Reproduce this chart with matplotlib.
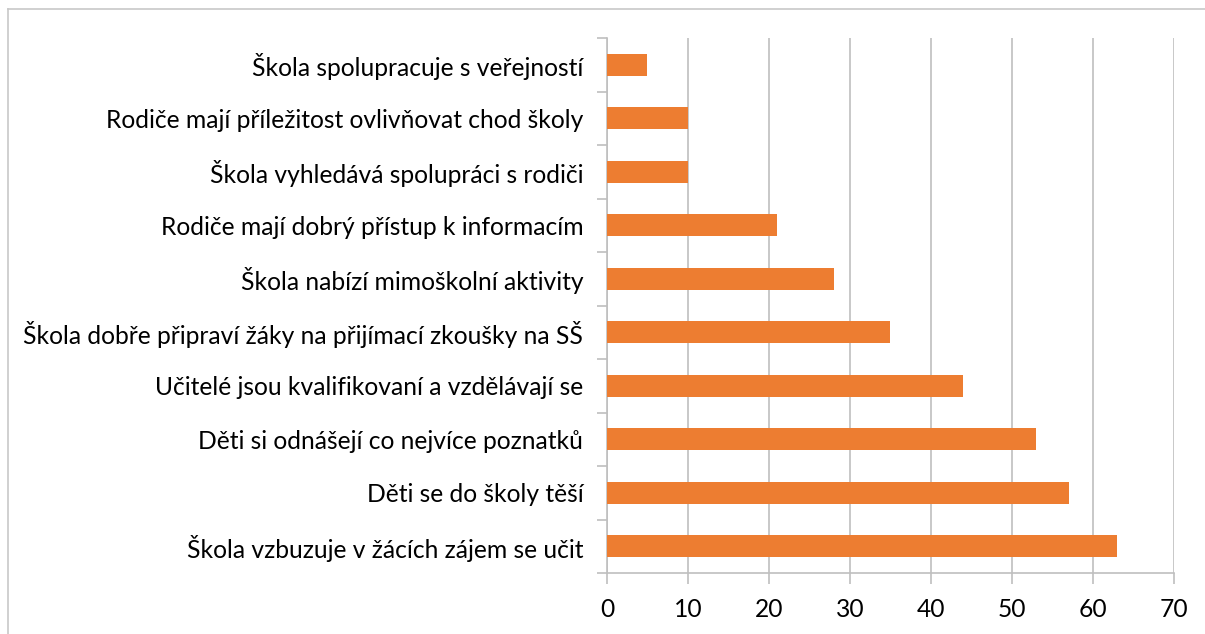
import matplotlib.pyplot as plt
import numpy as np
from matplotlib.lines import Line2D

categories = [
    "Škola vzbuzuje v žácích zájem se učit",
    "Děti se do školy těší",
    "Děti si odnášejí co nejvíce poznatků",
    "Učitelé jsou kvalifikovaní a vzdělávají se",
    "Škola dobře připraví žáky na přijímací zkoušky na SŠ",
    "Škola nabízí mimoškolní aktivity",
    "Rodiče mají dobrý přístup k informacím",
    "Škola vyhledává spolupráci s rodiči",
    "Rodiče mají příležitost ovlivňovat chod školy",
    "Škola spolupracuje s veřejností",
]
values = [63, 57, 53, 44, 35, 28, 21, 10, 10, 5]
xticks = [0, 10, 20, 30, 40, 50, 60, 70]

plt.rcParams['font.family'] = ['Lato', 'DejaVu Sans']
grid_col = '#BFBFBF'

fig = plt.figure(figsize=(12.05, 6.34), dpi=100)
ax = fig.add_axes([0.5037, 0.0962, 0.4706, 0.8438])

y = np.arange(len(categories))
ax.barh(y, values, height=0.41, color='#ED7D31', zorder=3)

ax.set_xlim(0, 70)
ax.set_ylim(-0.5, len(categories) - 0.5)
ax.set_xticks(xticks)
ax.set_xticklabels([str(t) for t in xticks], fontsize=17.7)
ax.set_yticks(y)
ax.set_yticklabels(categories, fontsize=17.7)
ax.set_yticks(np.arange(-0.5, len(categories), 1), minor=True)

ax.tick_params(axis='y', which='major', length=0, pad=17)
ax.tick_params(axis='y', which='minor', length=7, color=grid_col, width=1.2)
ax.tick_params(axis='x', length=8, color=grid_col, width=1.2, pad=10)

ax.grid(axis='x', color=grid_col, linewidth=1.2, zorder=0)
for s in ['top', 'right']:
    ax.spines[s].set_visible(False)
for s in ['left', 'bottom']:
    ax.spines[s].set_color(grid_col)
    ax.spines[s].set_linewidth(1.2)

# outer chart border (only top and left visible in the crop)
fig.lines.append(Line2D([0.0066, 1.0], [0.986, 0.986], transform=fig.transFigure,
                        color='#C8C8C8', linewidth=1.2))
fig.lines.append(Line2D([0.0066, 0.0066], [0.0, 0.986], transform=fig.transFigure,
                        color='#C8C8C8', linewidth=1.2))

fig.savefig('out.png', dpi=100)
